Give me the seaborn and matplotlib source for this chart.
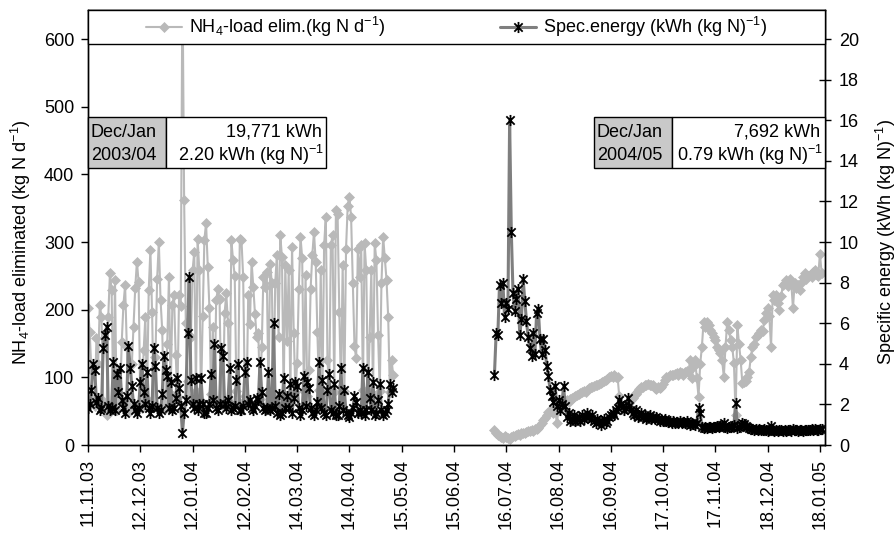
import numpy as np
import pandas as pd
import matplotlib
matplotlib.use("Agg")
import matplotlib.pyplot as plt
import seaborn as sns
from matplotlib.path import Path
from matplotlib.patches import Rectangle
from matplotlib.lines import Line2D

# ---------------- data ----------------
start_p1 = "2003-11-11"
start_p2 = "2004-07-09"

nh4_p1 = [202, 167, 111, 62, 58, 158, 120, 207, 189, 65,
          55, 44, 189, 254, 229, 60, 244, 52, 110, 65,
          152, 207, 236, 145, 58, 50, 120, 175, 232, 271,
          241, 62, 55, 140, 189, 68, 229, 288, 196, 58,
          130, 246, 300, 215, 170, 60, 55, 150, 248, 75,
          207, 221, 133, 70, 221, 205, 700, 362, 180, 95,
          70, 160, 258, 285, 80, 305, 258, 65, 190, 303,
          328, 263, 202, 75, 174, 62, 214, 230, 216, 70,
          58, 195, 224, 180, 62, 303, 273, 250, 80, 65,
          305,
          303, 249, 72, 60, 221, 179, 271, 234, 194, 160,
          165, 68, 145, 249, 234, 256, 75, 268, 239, 70,
          239, 281, 160, 310, 278, 72, 266, 153, 258, 75,
          293, 165, 78, 121, 231, 308, 276, 80, 251, 72,
          111, 231, 281, 315, 271, 167, 82, 258, 75, 295,
          337, 125, 80, 295, 310, 78, 347, 342, 197, 85,
          266, 80, 290, 354, 367, 337, 239, 147, 128, 290,
          249, 295, 82, 298, 258, 80, 160, 258, 75, 298,
          273, 162, 80, 239, 308, 276, 244, 189, 78, 125,
          103]

energy_p1 = [1.8, 2.0, 2.7, 4.0, 3.7, 2.1, 2.3, 1.7, 1.8, 4.8,
             5.4, 5.8, 1.9, 1.7, 1.8, 4.1, 1.7, 3.5, 2.6, 3.8,
             2.2, 1.8, 1.6, 2.4, 4.9, 3.8, 2.9, 2.0, 1.7, 1.6,
             1.8, 3.1, 4.0, 2.6, 2.0, 3.6, 1.8, 1.6, 1.9, 4.8,
             3.9, 1.8, 1.6, 1.7, 2.5, 4.4, 3.7, 3.4, 1.8, 3.1,
             1.7, 1.8, 2.3, 3.3, 2.8, 1.9, 0.6, 1.6, 2.2, 5.5,
             8.3, 3.2, 2.0, 1.8, 3.3, 1.7, 2.0, 3.3, 2.0, 1.6,
             1.6, 1.8, 2.0, 3.5, 2.2, 5.0, 1.8, 1.7, 2.0, 4.8,
             4.4, 2.0, 1.8, 2.2, 3.8, 1.7, 1.8, 1.9, 3.2, 4.0,
             1.7,
             1.7, 1.9, 3.6, 4.1, 2.0, 2.2, 1.8, 1.7, 1.9, 2.3,
             2.2, 4.1, 2.6, 1.8, 1.7, 1.8, 3.6, 1.7, 1.8, 6.0,
             1.9, 1.6, 2.5, 1.5, 1.6, 3.3, 1.8, 2.4, 1.8, 3.0,
             1.6, 2.3, 3.1, 2.9, 1.8, 1.5, 1.7, 3.4, 1.9, 3.1,
             2.8, 1.8, 1.6, 1.5, 1.7, 2.1, 4.1, 1.8, 3.2, 1.6,
             1.5, 2.7, 3.5, 1.7, 1.6, 3.0, 1.5, 1.5, 1.9, 3.8,
             1.7, 2.7, 1.6, 1.5, 1.4, 1.6, 1.8, 2.4, 2.1, 1.6,
             1.7, 1.6, 3.8, 1.5, 1.7, 3.6, 2.3, 1.7, 3.1, 1.5,
             1.6, 2.2, 3.0, 1.7, 1.5, 1.6, 1.7, 2.0, 3.0, 2.6,
             2.8]

nh4_p2 = [22, 18, 15, 13, 12, 10, 14, 12, 11, 9,
          12, 14, 13, 15, 16, 15, 17, 18, 17, 19,
          20, 21, 22, 20, 23, 24, 25, 30, 33, 37,
          40, 44, 49, 50, 52, 48, 55, 32, 52, 58,
          60, 62, 64, 66, 64, 68, 70, 71, 72, 74,
          76, 77, 78, 80, 79, 82, 84, 86, 85, 87,
          88, 89, 90, 92, 93, 95, 96, 98, 100, 102,
          101, 103, 100, 101, 72, 55, 52, 54, 58, 60,
          62, 66, 70, 74, 76, 80, 83, 85, 86, 88,
          89, 90, 88, 89, 88, 84, 83, 85, 84, 86,
          90, 96, 100, 101, 103, 104, 103, 105, 106, 104,
          108, 106, 104, 108, 110, 108, 125, 99, 115, 125,
          99, 71, 120, 145, 182, 175, 182, 178, 170, 165,
          160, 155, 145, 140, 136, 125, 101, 145, 182, 170,
          155, 145, 121, 44, 177, 150, 125, 91, 93, 95,
          100, 108, 130, 145, 150, 160, 163, 165, 170, 168,
          185, 195, 202, 190, 145, 221, 215, 221, 210, 200,
          220, 236, 240, 244, 235, 245, 240, 202, 239, 232,
          236, 229, 240, 248, 254, 245, 250, 252, 248, 255,
          258, 252, 250, 283, 254]

energy_p2 = [3.46, 5.5, 5.4, 7.9, 7.0, 8.0, 6.3, 7.0, 6.7, 16.0,
             10.5, 7.5, 6.6, 7.2, 7.7, 5.4, 6.2, 8.2, 7.1, 6.1,
             5.3, 4.8, 4.4, 5.5, 4.5, 6.5, 6.7, 5.2, 4.5, 5.2,
             4.7, 3.9, 3.4, 2.7, 2.4, 2.1, 2.9, 1.9, 2.2, 1.7,
             2.0, 2.9, 1.9, 1.4, 1.6, 1.2, 1.3, 1.5, 1.2, 1.3,
             1.4, 1.2, 1.5, 1.3, 1.4, 1.6, 1.4, 1.3, 1.5, 1.2,
             1.1, 1.3, 1.2, 1.0, 1.2, 1.3, 1.1, 1.2, 1.4, 1.5,
             1.6, 1.5, 1.7, 1.8, 2.2, 2.0, 1.9, 1.7, 1.8, 2.3,
             1.9, 1.7, 1.6, 1.5, 1.7, 1.4, 1.5, 1.6, 1.4, 1.5,
             1.3, 1.4, 1.5, 1.3, 1.4, 1.3, 1.4, 1.3, 1.2, 1.3,
             1.2, 1.3, 1.2, 1.15, 1.2, 1.1, 1.2, 1.1, 1.15, 1.1,
             1.2, 1.1, 1.15, 1.1, 1.2, 1.1, 1.0, 1.1, 1.05, 1.0,
             1.1, 1.8, 1.6, 0.9, 0.85, 0.9, 0.85, 0.9, 0.9, 0.85,
             0.9, 0.9, 0.95, 0.9, 0.95, 1.0, 1.1, 0.9, 0.85, 0.9,
             0.9, 0.95, 1.0, 2.07, 0.85, 0.9, 1.0, 1.1, 1.05, 0.95,
             0.9, 0.85, 0.8, 0.8, 0.75, 0.8, 0.75, 0.8, 0.75, 0.75,
             0.8, 0.75, 0.7, 0.75, 0.95, 0.75, 0.7, 0.75, 0.7, 0.72,
             0.75, 0.7, 0.72, 0.7, 0.75, 0.72, 0.7, 0.8, 0.72, 0.75,
             0.7, 0.72, 0.75, 0.7, 0.72, 0.75, 0.72, 0.75, 0.8, 0.75,
             0.78, 0.72, 0.75, 0.78, 0.8]

tick_labels = ["11.11.03", "12.12.03", "12.01.04", "12.02.04", "14.03.04",
               "14.04.04", "15.05.04", "15.06.04", "16.07.04", "16.08.04",
               "16.09.04", "17.10.04", "17.11.04", "18.12.04", "18.01.05"]
x_range = ["2003-11-11", "2005-01-21"]
left_ticks = [0, 100, 200, 300, 400, 500, 600]
right_ticks = [0, 2, 4, 6, 8, 10, 12, 14, 16, 18, 20]

series_labels = [r"NH$_4$-load elim.(kg N d$^{-1}$)",
                 r"Spec.energy (kWh (kg N)$^{-1}$)"]
left_ylabel = r"NH$_4$-load eliminated (kg N d$^{-1}$)"
right_ylabel = r"Specific energy (kWh (kg N)$^{-1}$)"
table_left = ["Dec/Jan", "2003/04", "19,771 kWh", r"2.20 kWh (kg N)$^{-1}$"]
table_right = ["Dec/Jan", "2004/05", "7,692 kWh", r"0.79 kWh (kg N)$^{-1}$"]

# ---------------- style ----------------
sns.set_theme(style="ticks", rc={
    "axes.edgecolor": "black", "xtick.color": "black", "ytick.color": "black",
    "text.color": "black", "axes.labelcolor": "black", "axes.linewidth": 1.0,
})
plt.rcParams["font.family"] = ["Liberation Sans", "DejaVu Sans"]
plt.rcParams["mathtext.fontset"] = "custom"
plt.rcParams["mathtext.rm"] = "Liberation Sans"
plt.rcParams["mathtext.it"] = "Liberation Sans:italic"
plt.rcParams["mathtext.bf"] = "Liberation Sans:bold"
FS = 13

NH4_COL = "#b9b9b9"
EN_LINE = "#7f7f7f"
star = Path([(0, -1), (0, 1), (-0.75, -0.75), (0.75, 0.75), (-0.75, 0.75), (0.75, -0.75)],
            [Path.MOVETO, Path.LINETO] * 3)

df1 = pd.DataFrame({"date": pd.date_range(start_p1, periods=len(nh4_p1), freq="D"),
                    "nh4": nh4_p1, "energy": energy_p1})
df2 = pd.DataFrame({"date": pd.date_range(start_p2, periods=len(nh4_p2), freq="D"),
                    "nh4": nh4_p2, "energy": energy_p2})

fig = plt.figure(figsize=(8.96, 5.34), dpi=100)
ax = fig.add_axes([88 / 896, 89 / 534, 737 / 896, 435 / 534])
ax2 = ax.twinx()

nh4_kw = dict(color=NH4_COL, lw=1.5, marker="D", markersize=5.3,
              markerfacecolor=NH4_COL, markeredgecolor=NH4_COL, markeredgewidth=0.5)
en_kw = dict(color=EN_LINE, lw=2.2, marker=star, markersize=8,
             markerfacecolor="none", markeredgecolor="black", markeredgewidth=1.3)

for df in (df1, df2):
    sns.lineplot(data=df, x="date", y="nh4", ax=ax, estimator=None, errorbar=None,
                 legend=False, **nh4_kw)
    sns.lineplot(data=df, x="date", y="energy", ax=ax2, estimator=None, errorbar=None,
                 legend=False, **en_kw)

# axes limits / ticks
ax.set_xlim(pd.Timestamp(x_range[0]), pd.Timestamp(x_range[1]))
ax.set_ylim(0, 643)
ax2.set_ylim(0, 21.43)
ax.set_yticks(left_ticks)
ax2.set_yticks(right_ticks)
tick_dates = [pd.to_datetime(t, format="%d.%m.%y") for t in tick_labels]
ax.set_xticks(tick_dates)
ax.set_xticklabels(tick_labels)
ax.set_xlabel("")
ax2.set_xlabel("")

ax.tick_params(axis="y", direction="out", length=5, width=1, labelsize=FS, pad=5)
ax.tick_params(axis="x", direction="out", length=5, width=1, labelsize=FS, pad=5,
               labelrotation=90)
ax2.tick_params(axis="y", direction="inout", length=8, width=1, labelsize=FS, pad=6)
for a in (ax, ax2):
    for s in a.spines.values():
        s.set_visible(True)
        s.set_color("black")
        s.set_linewidth(1.0)

ax.set_ylabel(left_ylabel, fontsize=FS)
ax.yaxis.set_label_coords(-0.074, 0.467)
ax2.set_ylabel(right_ylabel, fontsize=FS, rotation=90)
ax2.yaxis.set_label_coords(1.066, 0.467)

# legend box across the top
ax2.add_patch(Rectangle((0, 0.922), 1, 0.078, transform=ax2.transAxes,
                        facecolor="white", edgecolor="black", lw=1.0, zorder=5,
                        clip_on=False))
h1 = Line2D([], [], **nh4_kw)
h2 = Line2D([], [], **en_kw)
leg = ax2.legend([h1, h2], series_labels, loc="center", bbox_to_anchor=(0.5, 0.961),
                 ncol=2, frameon=False, fontsize=FS, handlelength=2.0,
                 handletextpad=0.4, columnspacing=6.3, borderaxespad=0, numpoints=1)
leg.set_zorder(6)


def draw_table(axis, x0, xd, x1, y0, y1, texts):
    axis.add_patch(Rectangle((x0, y0), xd - x0, y1 - y0, transform=axis.transAxes,
                             facecolor="#c9c9c9", edgecolor="black", lw=1.0, zorder=7,
                             clip_on=False))
    axis.add_patch(Rectangle((xd, y0), x1 - xd, y1 - y0, transform=axis.transAxes,
                             facecolor="white", edgecolor="black", lw=1.0, zorder=7,
                             clip_on=False))
    ym1 = y0 + (y1 - y0) * 0.70
    ym2 = y0 + (y1 - y0) * 0.25
    kw = dict(transform=axis.transAxes, fontsize=FS, va="center", zorder=8)
    axis.text(x0 + 0.004, ym1, texts[0], ha="left", **kw)
    axis.text(x0 + 0.004, ym2, texts[1], ha="left", **kw)
    axis.text(x1 - 0.006, ym1, texts[2], ha="right", **kw)
    axis.text(x1 - 0.003, ym2, texts[3], ha="right", **kw)


draw_table(ax2, 0.0, 0.1058, 0.323, 0.637, 0.754, table_left)
draw_table(ax2, 0.6866, 0.7924, 1.0, 0.637, 0.754, table_right)

fig.savefig("out.png", dpi=100)
